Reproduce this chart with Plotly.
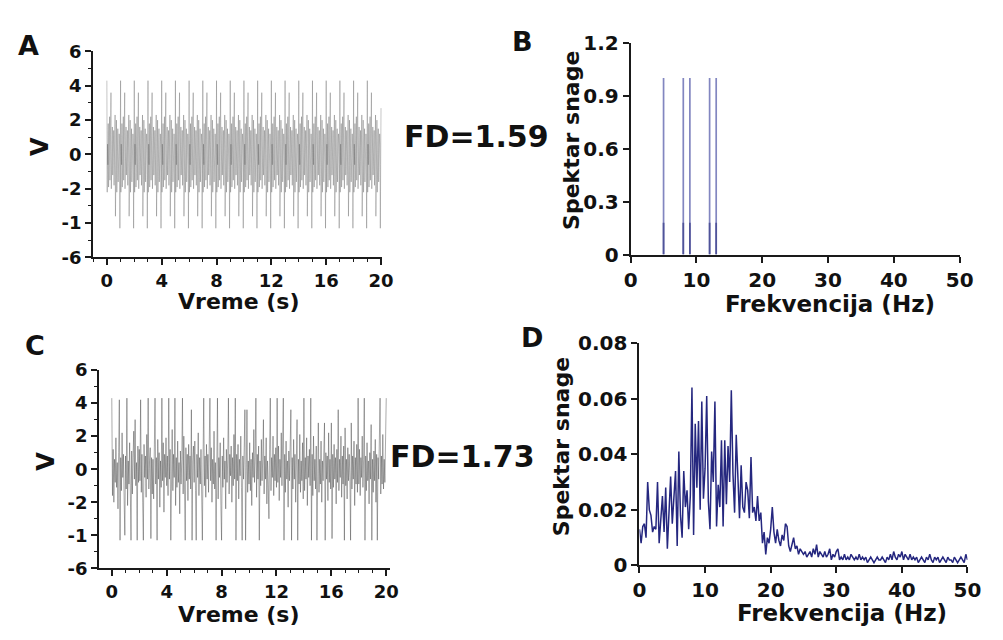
import numpy as np
import plotly.graph_objects as go

# ---------------- data ----------------
a_cycle = [4.3, -2.2, 0.6, -0.6, 1.8, -1.9, 0.6, -0.6, 2.2, -1.5,
           0.6, -0.6, 3.6, -2.0, 0.6, -0.6, 1.6, -1.2, 0.6, -0.6,
           1.4, -1.8, 0.6, -0.6, 2.3, -3.6, 0.6, -0.6, 2.0, -2.2,
           0.6, -0.6, 1.5, -1.6, 0.6, -0.6, 1.2, 0.6, -4.3, -0.6]
a_cycles = 20
a_last = [2.7]
dt_a = 0.025

# Panel C: irregular signal, one row per second (samples every 0.05 s)
c_rows = [
    [4.3, -1.6, 1.2, -2.0, 0.6, -0.8, 1.9, -1.1, 0.4, -2.4, 1.0, 4.2, -4.3, 0.7, -1.3, 2.2, -0.5, 0.9, -1.9, -4.0],
    [0.8, -1.2, 4.3, -2.2, 0.5, -0.9, 1.6, -0.4, -4.3, 1.1, -1.5, 0.7, 2.3, -0.6, 3.0, -1.0, 0.4, -4.3, 1.4, -0.8],
    [1.2, -0.7, 4.2, -1.4, 0.9, -2.0, -4.3, 1.5, -0.5, 0.8, -1.7, 2.1, -0.6, 4.3, -1.2, 0.5, 1.3, -4.2, 0.7, -1.5],
    [0.6, -1.8, 1.4, 4.3, -0.9, 0.7, -4.3, 1.8, -0.6, 1.0, -2.3, 0.5, -1.1, 4.3, -0.7, 1.6, -2.6, 0.9, -0.5, 1.9],
    [-1.0, 0.8, -1.6, 4.3, -0.6, 1.2, -4.3, 0.6, 2.4, -1.3, 0.9, -0.5, 4.3, -2.2, 0.7, -1.1, 1.7, -0.8, 0.4, -2.7],
    [1.1, -0.9, 0.6, 4.3, -1.5, 2.0, -0.4, -4.3, 1.3, -0.7, 0.9, -1.9, 1.5, -0.6, 0.8, -1.2, 3.6, -4.3, 0.5, 1.4],
    [-0.8, 1.7, -1.3, -4.3, 0.9, -0.5, 2.2, -1.6, 0.7, -0.9, 1.2, -2.1, -4.3, 0.6, 4.3, -1.0, 0.8, -1.7, 1.5, -0.6],
    [0.9, -1.4, 0.5, 4.3, -0.7, 1.3, -2.0, 0.6, -0.9, 2.3, -1.2, 0.4, -4.3, 1.0, 4.3, -1.8, 0.7, -0.5, 1.6, -2.2],
    [-4.3, 0.8, -1.1, 1.9, -0.6, 0.5, -2.4, 1.2, -0.8, 0.6, 4.3, -1.5, 0.9, -0.4, 1.4, -2.0, 0.7, -1.0, 2.1, -0.6],
    [4.3, -4.3, 0.9, -0.7, 1.5, -1.8, 0.6, -0.4, 2.0, -1.1, -4.3, 0.8, -0.6, 1.3, 3.6, -4.3, 0.7, 3.6, -1.4, 0.5],
    [-0.9, 1.6, -1.3, 0.6, -2.2, 1.0, -0.5, 2.4, -0.8, 0.7, 4.3, -1.7, 0.9, -0.6, 1.4, -4.3, 0.5, -1.0, 1.8, -0.7],
    [0.6, 3.0, -1.5, 0.8, -0.6, 1.9, -2.1, 0.5, -0.9, -3.0, 1.2, 4.3, -1.3, 0.7, -0.5, 2.0, -1.6, 0.9, -0.7, 1.3],
    [-1.1, 4.3, -0.8, 1.4, -1.9, 0.6, -0.5, 2.2, -1.0, 0.8, 4.3, -4.3, 0.9, -1.4, 1.7, -0.6, 0.5, -2.3, 1.1, -0.7],
    [0.8, 3.6, -4.3, 0.7, -1.2, 1.8, -0.6, 0.9, -2.0, 1.3, 3.0, -4.3, 0.6, -0.9, 2.1, -1.4, 0.5, -0.7, 1.6, -1.8],
    [4.3, -1.3, 0.7, -0.6, 1.9, -2.2, 0.8, -0.5, 1.2, -1.0, 4.3, -4.3, 0.9, -1.6, 2.0, -0.7, 0.6, -1.2, 1.4, -4.3],
    [0.7, 2.8, -1.4, 0.6, -0.9, 1.7, -2.0, 0.5, -0.7, 1.3, 2.8, -4.3, 1.0, -0.6, 0.8, -1.9, 2.2, -0.8, 0.6, -1.2],
    [2.8, -4.2, 0.9, -1.1, 1.5, -0.6, 0.7, -2.1, 1.2, -0.8, 3.6, -1.3, 0.6, -0.5, 2.0, -1.7, 0.8, -0.9, 1.4, -4.3],
    [2.5, -1.0, 0.6, -1.8, 1.3, -0.7, 0.9, -0.5, -4.3, 2.8, -1.2, 0.8, -0.6, 1.7, -2.2, 0.7, -0.9, 1.5, -1.4, 4.3],
    [-0.9, 1.2, -1.6, 0.7, -0.5, 2.0, -1.1, 0.6, 4.3, -4.3, 0.8, -1.3, 1.6, -0.7, 0.5, -2.1, 1.0, -0.6, 2.7, -4.3],
    [0.6, -1.4, 1.1, -0.7, 1.8, -2.0, 0.9, -4.3, 0.7, -0.6, 1.3, 4.3, -1.5, 0.8, -0.9, 2.1, -1.2, 0.6, -0.8, 1.6],
]
c_last = [4.3]
dt_c = 0.05

# Panel B: power spectrum lines
freq_b = [5, 8, 9, 12, 13]
power_b = [1.0, 1.0, 1.0, 1.0, 1.0]

# Panel D: power spectrum, 0..50 Hz every 0.25 Hz
df_d = 0.25
power_d = [
    0.013, 0.008, 0.014, 0.015, 0.010, 0.030, 0.020, 0.018,   # 0-2
    0.012, 0.014, 0.013, 0.030, 0.008, 0.019, 0.025, 0.012,   # 2-4
    0.028, 0.006, 0.021, 0.032, 0.015, 0.026, 0.034, 0.007,   # 4-6
    0.041, 0.018, 0.010, 0.034, 0.021, 0.027, 0.013, 0.025,   # 6-8
    0.064, 0.011, 0.051, 0.028, 0.052, 0.020, 0.059, 0.024,   # 8-10
    0.035, 0.061, 0.023, 0.013, 0.041, 0.030, 0.059, 0.014,   # 10-12
    0.029, 0.021, 0.045, 0.014, 0.045, 0.022, 0.043, 0.030,   # 12-14
    0.063, 0.033, 0.019, 0.047, 0.033, 0.017, 0.036, 0.021,   # 14-16
    0.019, 0.030, 0.027, 0.017, 0.039, 0.019, 0.021, 0.016,   # 16-18
    0.025, 0.016, 0.019, 0.008, 0.012, 0.004, 0.010, 0.008,   # 18-20
    0.013, 0.021, 0.012, 0.008, 0.013, 0.009, 0.007, 0.011,   # 20-22
    0.009, 0.015, 0.014, 0.007, 0.005, 0.008, 0.010, 0.006,   # 22-24
    0.007, 0.004, 0.006, 0.005, 0.004, 0.005, 0.003, 0.004,   # 24-26
    0.005, 0.003, 0.006, 0.004, 0.0075, 0.003, 0.005, 0.004,  # 26-28
    0.003, 0.005, 0.003, 0.004, 0.006, 0.002, 0.004, 0.003,   # 28-30
    0.005, 0.006, 0.002, 0.003, 0.002, 0.004, 0.002, 0.003,   # 30-32
    0.002, 0.004, 0.003, 0.002, 0.003, 0.002, 0.004, 0.002,   # 32-34
    0.003, 0.002, 0.003, 0.001, 0.002, 0.003, 0.002, 0.001,   # 34-36
    0.002, 0.003, 0.002, 0.002, 0.003, 0.002, 0.001, 0.003,   # 36-38
    0.002, 0.004, 0.002, 0.005, 0.003, 0.002, 0.004, 0.003,   # 38-40
    0.005, 0.002, 0.004, 0.003, 0.002, 0.004, 0.002, 0.003,   # 40-42
    0.002, 0.003, 0.001, 0.002, 0.003, 0.002, 0.001, 0.003,   # 42-44
    0.002, 0.004, 0.002, 0.001, 0.003, 0.002, 0.003, 0.001,   # 44-46
    0.002, 0.003, 0.002, 0.001, 0.003, 0.002, 0.002, 0.001,   # 46-48
    0.003, 0.002, 0.001, 0.002, 0.003, 0.002, 0.001, 0.004,   # 48-50
    0.002,
]

# tick labels
v_tickvals = [-6, -4, -2, 0, 2, 4, 6]
v_ticktext = ["-6", "-1", "-2", "0", "2", "4", "6"]
t_tickvals = [0, 4, 8, 12, 16, 20]
b_tickvals = [0, 0.3, 0.6, 0.9, 1.2]
b_ticktext = ["0", "0.3", "0.6", "0.9", "1.2"]
d_tickvals = [0, 0.02, 0.04, 0.06, 0.08]
d_ticktext = ["0", "0.02", "0.04", "0.06", "0.08"]
f_tickvals = [0, 10, 20, 30, 40, 50]

# ---------------- build ----------------
W, H = 1003, 640
def px(x):
    return x / W
def py(y):
    return 1 - y / H

volt_a = a_cycle * a_cycles + a_last
time_a = np.arange(len(volt_a)) * dt_a
volt_c = [v for row in c_rows for v in row] + c_last
time_c = np.arange(len(volt_c)) * dt_c
freq_d = np.arange(len(power_d)) * df_d

FONT = "DejaVu Sans"
AX = "#1a1a1a"

fig = go.Figure()

fig.add_trace(go.Scatter(x=time_a, y=volt_a, mode="lines",
                         line=dict(color="rgba(95,95,95,0.6)", width=0.6),
                         xaxis="x", yaxis="y", showlegend=False, hoverinfo="skip"))

# B stems
sx, sy, dx, dy = [], [], [], []
for f, p in zip(freq_b, power_b):
    sx += [f, f, None]
    sy += [0, p, None]
    dx += [f, f, None]
    dy += [0, 0.18 * p, None]
fig.add_trace(go.Scatter(x=sx, y=sy, mode="lines",
                         line=dict(color="#8286c0", width=1.7),
                         xaxis="x2", yaxis="y2", showlegend=False, hoverinfo="skip"))
fig.add_trace(go.Scatter(x=dx, y=dy, mode="lines",
                         line=dict(color="#4f5399", width=1.7),
                         xaxis="x2", yaxis="y2", showlegend=False, hoverinfo="skip"))

fig.add_trace(go.Scatter(x=time_c, y=volt_c, mode="lines",
                         line=dict(color="rgba(70,70,70,0.65)", width=0.7),
                         xaxis="x3", yaxis="y3", showlegend=False, hoverinfo="skip"))

fig.add_trace(go.Scatter(x=freq_d, y=power_d, mode="lines",
                         line=dict(color="#25277f", width=1.5),
                         xaxis="x4", yaxis="y4", showlegend=False, hoverinfo="skip"))


def axis(domain, rng, tickvals, ticktext, anchor, size, minor=None):
    d = dict(domain=domain, range=rng, tickvals=tickvals, ticktext=ticktext,
             anchor=anchor, showline=True, linecolor=AX, linewidth=2,
             ticks="outside", ticklen=6, tickwidth=1.5, tickcolor=AX,
             showgrid=False, zeroline=False, fixedrange=True,
             tickfont=dict(family=FONT, size=size, color="#111", weight="bold"))
    if minor is not None:
        d["minor"] = dict(dtick=minor, ticks="outside", ticklen=3,
                          tickwidth=1, tickcolor=AX, showgrid=False)
    return d

t_text = [str(v) for v in t_tickvals]
f_text = [str(v) for v in f_tickvals]

fig.update_layout(
    width=W, height=H, margin=dict(l=0, r=0, t=0, b=0),
    paper_bgcolor="white", plot_bgcolor="white",
    xaxis=axis([px(88), px(383)], [-1.0, 20.07], t_tickvals, t_text, "y", 18, minor=1),
    yaxis=axis([py(255), py(41)], [-6, 6], v_tickvals, v_ticktext, "x", 18, minor=1),
    xaxis2=axis([px(637), px(973)], [0, 50], f_tickvals, f_text, "y2", 20),
    yaxis2=axis([py(252), py(32)], [0, 1.2], b_tickvals, b_ticktext, "x2", 20),
    xaxis3=axis([px(94), px(391)], [-0.93, 20.26], t_tickvals, t_text, "y3", 18, minor=1),
    yaxis3=axis([py(578), py(372)], [-6, 6], v_tickvals, v_ticktext, "x3", 18, minor=1),
    xaxis4=axis([px(646), px(981)], [0, 50], f_tickvals, f_text, "y4", 20),
    yaxis4=axis([py(575), py(344)], [0, 0.08], d_tickvals, d_ticktext, "x4", 20),
)

def label(text, x, y, size, angle=0):
    fig.add_annotation(text=text, x=px(x), y=py(y), xref="paper", yref="paper",
                       showarrow=False, xanchor="center", yanchor="middle",
                       textangle=angle,
                       font=dict(family=FONT, size=size, color="#111", weight="bold"))

label("A", 22, 35, 27)
label("B", 527, 31, 27)
label("C", 29, 346, 27)
label("D", 536, 338, 27)
label("FD=1.59", 480, 129, 30)
label("FD=1.73", 465, 462, 30)
label("V", 33, 140, 24, -90)
label("V", 40, 467, 24, -90)
label("Vreme (s)", 237, 301, 22)
label("Vreme (s)", 237, 626, 22)
label("Spektar snage", 576, 133, 22, -90)
label("Spektar snage", 566, 452, 22, -90)
label("Frekvencija (Hz)", 841, 303, 23)
label("Frekvencija (Hz)", 853, 624, 23)

fig.write_html(
    "out.html",
    config={"displayModeBar": False},
    post_script="document.body.style.margin='0';document.body.style.overflow='hidden';",
)
